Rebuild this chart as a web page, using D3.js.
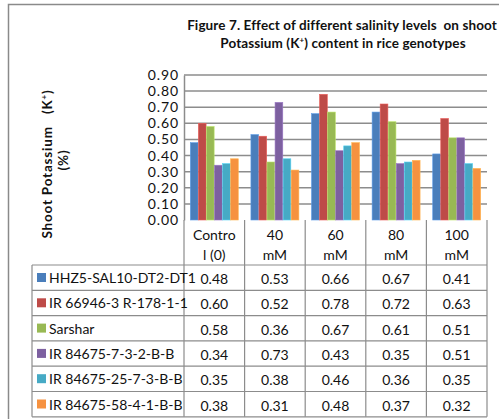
<!DOCTYPE html>
<html>
<head>
<meta charset="utf-8">
<script src="https://cdn.jsdelivr.net/npm/d3@7"></script>
<style>
  body { margin: 0; background: #fff; }
  svg { display: block; font-family: Lato, "Open Sans", sans-serif; }
  svg text { white-space: pre; }
</style>
</head>
<body>
<div id="chart"></div>
<script>

// Data
const categories = ["Control (0)", "40 mM", "60 mM", "80 mM", "100 mM"];
const headerLines = [["Contro", "l (0)"], ["40", "mM"], ["60", "mM"], ["80", "mM"], ["100", "mM"]];
const genotypes = [
  "HHZ5-SAL10-DT2-DT1",
  "IR 66946-3 R-178-1-1",
  "Sarshar",
  "IR 84675-7-3-2-B-B",
  "IR 84675-25-7-3-B-B",
  "IR 84675-58-4-1-B-B"
];
const hhz5 = [0.48, 0.53, 0.66, 0.67, 0.41];
const ir66946 = [0.60, 0.52, 0.78, 0.72, 0.63];
const sarshar = [0.58, 0.36, 0.67, 0.61, 0.51];
const ir84675_7 = [0.34, 0.73, 0.43, 0.35, 0.51];
const ir84675_25 = [0.35, 0.38, 0.46, 0.36, 0.35];
const ir84675_58 = [0.38, 0.31, 0.48, 0.37, 0.32];
const seriesValues = [hhz5, ir66946, sarshar, ir84675_7, ir84675_25, ir84675_58];
const colors = ["#4a7ebb", "#be4b48", "#98b954", "#7d60a0", "#46aac5", "#f69240"];
const yTicks = [0, 0.1, 0.2, 0.3, 0.4, 0.5, 0.6, 0.7, 0.8, 0.9];

// Dimensions
const width = 499;
const height = 419;
const plot = { left: 184, right: 487, top: 75, bottom: 220 };
const table = { left: 32, headerBottom: 265, rowH: 25.3 };
const gridColor = "#8c8c8c";

const svg = d3.select("#chart")
  .append("svg")
    .attr("width", width)
    .attr("height", height);

// Outer frame
svg.append("rect")
  .attr("x", 8.5)
  .attr("y", 4.5)
  .attr("width", 520)
  .attr("height", 440)
  .attr("fill", "none")
  .attr("stroke", "#8a8a8a")
  .attr("stroke-width", 1.5);

// Title
const title = svg.append("text")
  .attr("text-anchor", "middle")
  .style("font-size", "13.5px")
  .style("font-weight", 700)
  .style("letter-spacing", "0.1px")
  .attr("fill", "#111");
title.append("tspan")
  .attr("x", 342).attr("y", 30)
  .text("Figure 7. Effect of different salinity levels  on shoot");
const t2 = title.append("tspan").attr("x", 343).attr("y", 48);
t2.append("tspan").text("Potassium (K");
t2.append("tspan").attr("dy", -5).style("font-size", "8px").text("+");
t2.append("tspan").attr("dy", 5).text(") content in rice genotypes");

// Scales
const x0 = d3.scaleBand()
  .domain(categories)
  .range([plot.left, plot.right])
  .paddingInner(0)
  .paddingOuter(0);

const x1 = d3.scaleBand()
  .domain(d3.range(genotypes.length))
  .range([6, x0.bandwidth() - 6])
  .padding(0.04);

const y = d3.scaleLinear()
  .domain([0, 0.9])
  .range([plot.bottom, plot.top]);

// Gridlines
svg.append("g")
  .selectAll("line")
  .data(yTicks.slice(1))
  .join("line")
    .attr("x1", plot.left)
    .attr("x2", plot.right)
    .attr("y1", d => y(d))
    .attr("y2", d => y(d))
    .attr("stroke", gridColor)
    .attr("stroke-width", 1.5);

// Y axis
const yAxis = svg.append("g")
  .attr("transform", `translate(${plot.left},0)`)
  .call(d3.axisLeft(y).tickValues(yTicks).tickFormat(d3.format(".2f")).tickSize(0).tickPadding(5));
yAxis.select(".domain").attr("stroke", gridColor).attr("stroke-width", 1.5);
yAxis.selectAll("text")
  .style("font-size", "14px")
  .style("font-family", "Lato, sans-serif")
  .style("letter-spacing", "0.9px")
  .attr("fill", "#111");

// Y axis title
const yTitle = svg.append("text")
  .attr("transform", "rotate(-90)")
  .attr("text-anchor", "middle")
  .style("font-size", "13.5px")
  .style("font-weight", 700)
  .style("letter-spacing", "0.8px")
  .attr("fill", "#111");
const yl1 = yTitle.append("tspan").attr("x", -164).attr("y", 52);
yl1.append("tspan").text("Shoot Potassium   (K");
yl1.append("tspan").attr("dy", -5).style("font-size", "8px").text("+");
yl1.append("tspan").attr("dy", 5).text(")");
yTitle.append("tspan").attr("x", -160).attr("y", 68).text("(%)");

// Bars
const groups = svg.append("g")
  .selectAll("g")
  .data(categories)
  .join("g")
    .attr("transform", d => `translate(${x0(d)},0)`);

groups.selectAll("rect")
  .data((c, ci) => seriesValues.map((vals, si) => ({ si, v: vals[ci] })))
  .join("rect")
    .attr("x", d => x1(d.si))
    .attr("width", x1.bandwidth())
    .attr("y", d => y(d.v))
    .attr("height", d => y(0) - y(d.v))
    .attr("fill", d => colors[d.si])
    .attr("stroke", d => d3.color(colors[d.si]).brighter(0.6))
    .attr("stroke-width", 0.6);

// Data table
const tableBottom = table.headerBottom + table.rowH * genotypes.length;
const tg = svg.append("g");

// vertical column lines
tg.selectAll(".vline")
  .data(categories.map(c => x0(c)).concat([plot.right]))
  .join("line")
    .attr("class", "vline")
    .attr("x1", d => d).attr("x2", d => d)
    .attr("y1", plot.bottom).attr("y2", tableBottom)
    .attr("stroke", gridColor)
    .attr("stroke-width", 1.2);

// left edge of legend column
tg.append("line")
  .attr("x1", table.left).attr("x2", table.left)
  .attr("y1", table.headerBottom).attr("y2", tableBottom)
  .attr("stroke", gridColor).attr("stroke-width", 1.2);

// horizontal lines
tg.selectAll(".hline")
  .data(d3.range(genotypes.length + 1))
  .join("line")
    .attr("class", "hline")
    .attr("x1", table.left).attr("x2", plot.right)
    .attr("y1", i => table.headerBottom + i * table.rowH)
    .attr("y2", i => table.headerBottom + i * table.rowH)
    .attr("stroke", gridColor)
    .attr("stroke-width", 1.2);

// header labels
tg.selectAll(".head")
  .data(categories)
  .join("text")
    .attr("class", "head")
    .attr("text-anchor", "middle")
    .style("font-size", "14px")
    .attr("fill", "#111")
    .each(function(c, i) {
      const t = d3.select(this);
      headerLines[i].forEach((line, li) => {
        t.append("tspan")
          .attr("x", x0(c) + x0.bandwidth() / 2)
          .attr("y", 240 + li * 20)
          .text(line);
      });
    });

// rows
const rows = tg.selectAll(".row")
  .data(genotypes)
  .join("g")
    .attr("class", "row")
    .attr("transform", (d, i) => `translate(0,${table.headerBottom + i * table.rowH})`);

rows.append("rect")
  .attr("x", 37).attr("y", 8)
  .attr("width", 9).attr("height", 9)
  .attr("fill", (d, i) => colors[i]);

rows.append("text")
  .attr("x", 49).attr("y", 18)
  .style("font-size", "14px")
  .attr("fill", "#111")
  .text(d => d);

rows.each(function(g, si) {
  d3.select(this).selectAll(".val")
    .data(seriesValues[si])
    .join("text")
      .attr("class", "val")
      .attr("x", (v, ci) => x0(categories[ci]) + x0.bandwidth() / 2)
      .attr("y", 19)
      .attr("text-anchor", "middle")
      .style("font-size", "14px")
      .attr("fill", "#111")
      .text(v => v.toFixed(2));
});

</script>
</body>
</html>
